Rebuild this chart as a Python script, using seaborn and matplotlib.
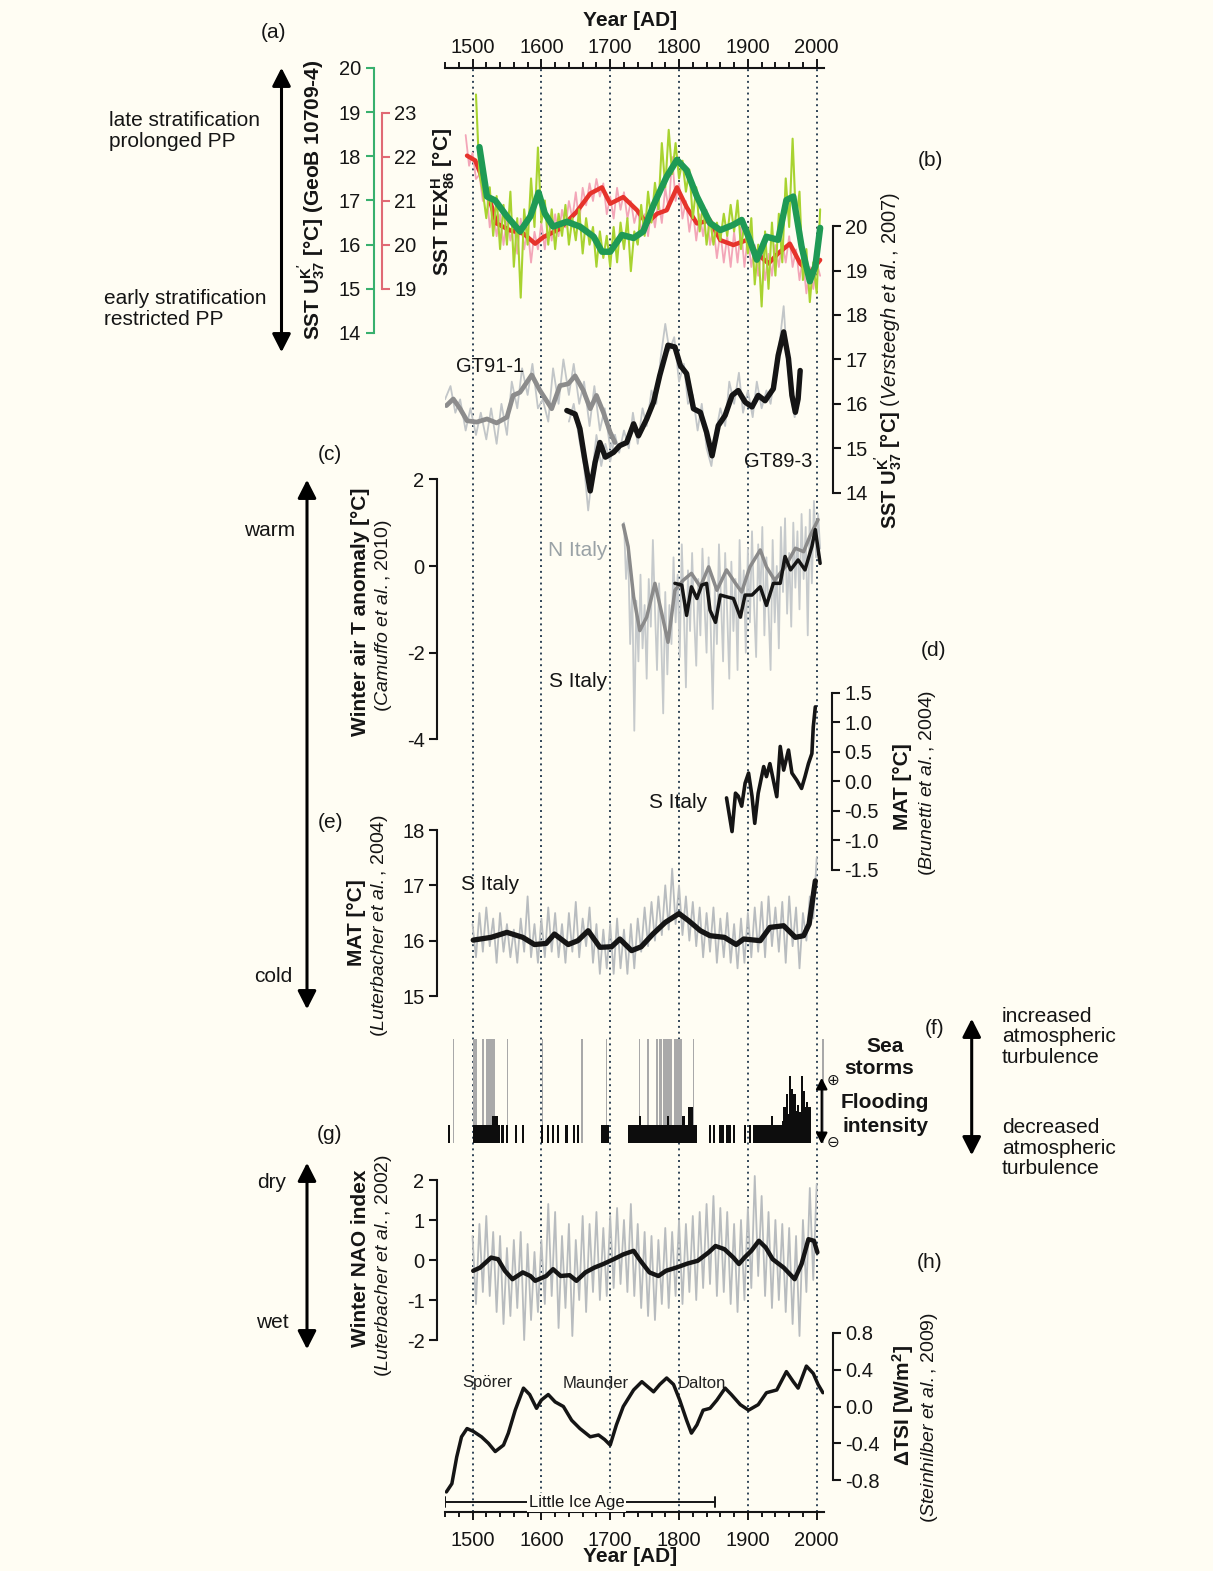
import numpy as np
import matplotlib
matplotlib.use("Agg")
import matplotlib.pyplot as plt
import seaborn as sns
from matplotlib.patches import FancyArrowPatch

sns.set_theme(style="white")
plt.rcParams["font.family"] = ["Liberation Sans", "DejaVu Sans"]
plt.rcParams["mathtext.fontset"] = "custom"
plt.rcParams["mathtext.rm"] = "Liberation Sans"
plt.rcParams["mathtext.bf"] = "Liberation Sans:bold"
plt.rcParams["mathtext.it"] = "Liberation Sans:italic"
plt.rcParams["axes.unicode_minus"] = False

# ---------------- (a) SST records ----------------
u37_smooth_year = [1510, 1521, 1533, 1550, 1569, 1584, 1596, 1605, 1617, 1637, 1656, 1676, 1688, 1700,
                   1717, 1734, 1748, 1763, 1782, 1797, 1811, 1826, 1845, 1860, 1879, 1891, 1901, 1913,
                   1927, 1944, 1956, 1966, 1978, 1990, 1998, 2005]
u37_smooth = [18.21, 17.09, 17.00, 16.64, 16.30, 16.64, 17.18, 16.71, 16.41, 16.52, 16.41, 16.18, 15.84,
              15.84, 16.22, 16.15, 16.30, 16.90, 17.54, 17.92, 17.69, 17.09, 16.49, 16.33, 16.45, 16.56,
              16.18, 15.66, 16.18, 16.11, 17.01, 17.09, 15.96, 15.17, 15.51, 16.38]
u37_annual_year = np.arange(1505, 2006, 5)
u37_annual = [19.4, 17.6, 17.2, 16.6, 17.3, 16.2, 17.1, 15.9, 16.9, 16.0,
              17.2, 15.5, 16.6, 14.8, 16.8, 16.0, 17.5, 16.4, 18.2, 16.5,
              17.0, 16.0, 16.8, 15.9, 16.7, 16.2, 16.9, 16.0, 16.6, 16.1,
              16.8, 15.8, 16.6, 16.0, 16.4, 15.5, 16.3, 15.7, 16.2, 15.5,
              16.4, 15.6, 16.5, 15.9, 16.6, 15.4, 16.3, 16.0, 16.9, 16.2,
              17.2, 16.5, 17.4, 16.8, 18.3, 17.3, 18.6, 17.6, 18.3, 17.5,
              17.9, 17.2, 17.7, 16.6, 17.3, 16.3, 16.9, 16.0, 16.6, 16.0,
              16.5, 16.1, 16.7, 16.2, 16.9, 16.3, 17.0, 15.9, 16.5, 15.8,
              16.6, 15.1, 16.0, 14.6, 16.3, 15.0, 16.5, 15.3, 16.7, 15.6,
              17.5, 16.4, 18.4, 16.5, 17.2, 15.2, 15.9, 14.7, 15.6, 14.9,
              16.8]
tex_smooth_year = [1492, 1504, 1521, 1535, 1555, 1574, 1591, 1603, 1627, 1651, 1671, 1688, 1700, 1719,
                   1739, 1753, 1768, 1782, 1797, 1811, 1826, 1845, 1860, 1879, 1898, 1913, 1930, 1944,
                   1961, 1976, 1990, 2005]
tex_smooth = [22.03, 21.92, 21.24, 20.49, 20.33, 20.26, 20.03, 20.18, 20.37, 20.75, 21.17, 21.31, 20.94,
              21.09, 20.79, 20.49, 20.71, 20.79, 21.31, 20.86, 20.49, 20.56, 20.11, 20.00, 20.11, 19.81,
              19.58, 19.81, 20.03, 19.58, 19.36, 19.66]
tex_annual_year = np.arange(1490, 2006, 5)
tex_annual = [22.5, 21.8, 22.1, 21.5, 21.6, 21.0, 21.3, 20.4, 20.8, 20.2,
              20.7, 20.0, 20.6, 20.1, 20.5, 19.8, 20.6, 19.9, 20.4, 19.6,
              20.3, 19.9, 20.5, 19.9, 20.6, 20.1, 20.7, 20.2, 20.8, 20.4,
              21.0, 20.6, 21.2, 20.5, 21.3, 20.9, 21.4, 21.0, 21.5, 21.1,
              21.4, 20.7, 21.1, 20.6, 21.3, 20.8, 21.2, 20.6, 21.0, 20.5,
              20.8, 20.3, 20.7, 20.2, 20.9, 20.4, 21.0, 20.5, 21.3, 20.8,
              22.0, 21.0, 21.4, 20.6, 21.0, 20.3, 20.8, 20.1, 20.7, 20.2,
              20.8, 20.0, 20.4, 19.7, 20.3, 19.6, 20.2, 19.5, 20.3, 19.6,
              20.4, 19.5, 20.2, 19.5, 20.0, 19.3, 19.9, 19.2, 19.8, 19.3,
              20.0, 19.5, 20.1, 19.6, 20.2, 19.5, 19.9, 19.2, 19.7, 18.9,
              19.5, 19.0, 19.6, 19.3]

# ---------------- (b) Versteegh cores ----------------
gt91_year = [1462, 1472, 1482, 1492, 1506, 1521, 1535, 1550, 1559, 1569, 1586, 1598, 1615, 1627, 1639,
             1649, 1661, 1671, 1680, 1690, 1700, 1707]
gt91 = [15.96, 16.11, 15.89, 15.62, 15.59, 15.66, 15.57, 15.70, 16.19, 16.26, 16.65, 16.30, 15.89,
        16.41, 16.45, 16.63, 16.30, 15.89, 16.19, 15.81, 15.36, 15.13]
gt91_raw_year = [1460, 1468, 1475, 1482, 1490, 1497, 1505, 1512, 1520, 1527, 1535, 1542, 1550, 1557,
                 1565, 1572, 1580, 1587, 1595, 1602, 1610, 1617, 1625, 1632, 1640, 1647, 1655, 1662,
                 1670, 1677, 1685, 1692, 1700, 1707]
gt91_raw = [16.1, 16.4, 15.8, 16.1, 15.4, 15.9, 15.3, 15.8, 15.2, 15.9, 15.1, 16.0, 15.3, 16.5, 15.9,
            16.8, 16.2, 16.9, 15.9, 16.1, 15.6, 16.8, 16.0, 17.0, 16.2, 16.9, 16.0, 16.5, 15.5, 16.4,
            15.4, 15.9, 15.0, 15.3]
gt89_year = [1637, 1649, 1656, 1663, 1671, 1678, 1685, 1693, 1705, 1714, 1724, 1734, 1741, 1753, 1763,
             1772, 1784, 1794, 1802, 1811, 1821, 1831, 1840, 1848, 1857, 1867, 1877, 1886, 1896, 1906,
             1915, 1925, 1937, 1944, 1952, 1959, 1964, 1969, 1973, 1976]
gt89 = [15.85, 15.77, 15.44, 14.76, 14.04, 14.68, 15.13, 14.80, 14.91, 15.06, 15.13, 15.55, 15.28,
        15.66, 16.04, 16.64, 17.32, 17.28, 16.86, 16.68, 15.89, 15.81, 15.36, 14.83, 15.51, 15.74,
        16.19, 16.30, 16.04, 15.93, 16.19, 16.07, 16.34, 17.09, 17.62, 17.02, 16.19, 15.81, 16.11, 16.75]
gt89_raw_year = [1640, 1647, 1655, 1662, 1668, 1673, 1680, 1687, 1693, 1700, 1707, 1713, 1720, 1727,
                 1733, 1740, 1747, 1753, 1760, 1767, 1773, 1780, 1786, 1793, 1800, 1807, 1813, 1820,
                 1827, 1833, 1840, 1847, 1853, 1860, 1867, 1873, 1880, 1887, 1893, 1900, 1907, 1913,
                 1920, 1927, 1933, 1940, 1947, 1952, 1957, 1963, 1968, 1973, 1977]
gt89_raw = [15.6, 16.0, 15.2, 14.6, 13.6, 14.3, 15.3, 14.6, 15.1, 14.7, 15.3, 14.9, 15.4, 15.0, 15.8,
            15.1, 15.9, 15.5, 16.3, 16.0, 17.0, 17.8, 17.2, 17.5, 16.5, 16.9, 16.0, 16.2, 15.4, 16.0,
            15.0, 14.6, 15.3, 15.9, 15.5, 16.5, 16.0, 16.7, 15.8, 16.3, 15.7, 16.5, 15.9, 16.3, 16.0,
            16.8, 17.5, 18.2, 17.0, 16.1, 15.7, 16.2, 16.6]

# ---------------- (c) winter air temperature anomaly ----------------
n_italy_year = [1719, 1726, 1734, 1743, 1753, 1765, 1775, 1784, 1794, 1806, 1818, 1831, 1843, 1855,
                1869, 1882, 1891, 1903, 1918, 1927, 1939, 1954, 1969, 1981, 1990, 2002]
n_italy = [0.95, 0.45, -0.71, -1.49, -1.18, -0.40, -1.10, -1.76, -0.56, -0.33, -0.17, -0.48, -0.02,
           -0.56, -0.09, -0.40, -0.60, -0.02, 0.37, -0.02, -0.33, -0.02, 0.41, 0.33, 0.68, 1.07]
s_italy_year = [1794, 1804, 1811, 1818, 1826, 1833, 1840, 1845, 1853, 1860, 1869, 1879, 1889, 1896,
                1906, 1918, 1927, 1937, 1947, 1954, 1962, 1973, 1983, 1993, 1998, 2005]
s_italy = [-0.40, -0.44, -1.14, -0.48, -0.75, -0.44, -0.40, -1.02, -1.30, -0.67, -0.71, -0.75, -1.18,
           -0.67, -0.67, -0.48, -0.91, -0.40, -0.40, 0.22, -0.09, 0.14, -0.09, 0.45, 0.84, 0.06]
winter_raw_year = np.arange(1720, 2006, 3)
winter_raw = [1.0, -0.3, 0.4, -1.8, -0.5, -3.8, -0.8, -2.2, -0.2, -1.9,
              -0.9, -2.6, -0.3, -1.4, 0.6, -1.0, -2.4, -0.4, -1.6, -3.4,
              -0.6, -2.5, -0.9, -1.8, 0.2, -1.3, -0.2, -2.1, 0.5, -1.0,
              -2.8, -0.1, -1.5, 0.3, -1.2, -2.3, -0.3, -1.6, 0.4, -0.9,
              -2.0, 0.2, -1.4, -3.3, -0.5, -1.8, 0.5, -0.8, -2.2, 0.3,
              -1.1, -2.6, 0.1, -1.5, -0.3, -2.4, 0.6, -1.2, -0.1, -2.0,
              0.4, -1.3, 0.8, -0.9, -2.1, 0.5, -0.8, 0.9, -1.6, 0.2,
              -1.0, -2.4, 0.6, -1.3, 0.0, -1.9, 0.9, -0.6, 1.1, -1.1,
              0.3, -1.4, 1.0, -0.5, 0.8, -1.0, 1.2, -0.3, 0.9, -1.6,
              1.3, -0.4, 1.5, 0.2, 1.2, 0.4]

# ---------------- (d) S Italy MAT (Brunetti) ----------------
mat_b_year = [1869, 1877, 1882, 1886, 1891, 1896, 1901, 1906, 1910, 1915, 1923, 1927, 1932, 1937, 1942,
              1947, 1952, 1959, 1964, 1971, 1978, 1983, 1988, 1993, 1995, 1998]
mat_b = [-0.28, -0.85, -0.20, -0.25, -0.42, -0.03, 0.14, -0.25, -0.71, -0.20, 0.25, 0.08, 0.30, 0.02,
         -0.26, 0.59, 0.19, 0.53, 0.14, 0.02, -0.12, 0.08, 0.30, 0.47, 0.92, 1.26]

# ---------------- (e) S Italy MAT (Luterbacher) ----------------
mat_l_year = [1501, 1527, 1550, 1573, 1590, 1607, 1619, 1639, 1653, 1668, 1685, 1702, 1714, 1731, 1745,
              1762, 1780, 1800, 1814, 1831, 1845, 1866, 1883, 1894, 1918, 1932, 1952, 1969, 1981, 1989, 1998]
mat_l = [16.01, 16.06, 16.15, 16.06, 15.93, 15.95, 16.12, 15.93, 16.00, 16.18, 15.88, 15.89, 16.03,
         15.82, 15.89, 16.12, 16.33, 16.49, 16.36, 16.18, 16.09, 16.06, 15.93, 16.03, 16.00, 16.24,
         16.27, 16.06, 16.09, 16.30, 17.08]
mat_l_raw_year = np.arange(1500, 2001, 5)
mat_l_raw = [16.3, 15.7, 16.5, 15.8, 16.6, 15.9, 16.4, 15.6, 16.5, 15.8,
             16.3, 15.7, 16.2, 15.6, 16.4, 15.8, 16.8, 15.7, 16.3, 15.6,
             16.4, 15.7, 16.6, 15.8, 16.5, 15.7, 16.3, 15.6, 16.5, 15.8,
             16.7, 15.7, 16.4, 15.9, 16.6, 15.6, 16.3, 15.4, 16.2, 15.5,
             16.3, 15.4, 16.4, 15.5, 16.2, 15.4, 16.3, 15.5, 16.4, 15.8,
             16.6, 15.9, 16.7, 16.0, 16.8, 16.1, 17.0, 16.2, 17.3, 16.3,
             17.0, 16.1, 16.8, 16.0, 16.7, 15.9, 16.6, 15.7, 16.5, 15.8,
             16.6, 15.6, 16.4, 15.7, 16.5, 15.6, 16.3, 15.5, 16.4, 15.6,
             16.5, 15.7, 16.6, 15.8, 16.7, 15.7, 16.8, 15.9, 16.6, 15.8,
             16.7, 15.6, 16.8, 15.9, 16.6, 15.5, 16.5, 16.0, 16.8, 16.4,
             17.5]

# ---------------- (f) sea storms and flooding ----------------
flood_start = [1464, 1500, 1529, 1537, 1542, 1549, 1562, 1572, 1599, 1608, 1616, 1623, 1635, 1646, 1652,
               1687, 1726, 1742, 1745, 1783, 1786, 1805, 1808, 1813, 1821, 1844, 1849, 1858, 1868, 1878,
               1895, 1901, 1908, 1933, 1936, 1949, 1951, 1955, 1958, 1960, 1963, 1966, 1970, 1972, 1975,
               1977, 1980, 1983, 1985, 1988]
flood_end = [1467, 1529, 1537, 1540, 1545, 1552, 1565, 1575, 1602, 1611, 1619, 1626, 1638, 1649, 1655,
             1698, 1742, 1745, 1783, 1786, 1805, 1808, 1813, 1821, 1826, 1847, 1852, 1866, 1875, 1881,
             1897, 1904, 1933, 1936, 1949, 1951, 1955, 1958, 1960, 1963, 1966, 1970, 1972, 1975, 1977,
             1980, 1983, 1985, 1988, 1991]
flood_level = [1.0, 1.0, 1.5, 1.0, 1.0, 1.0, 1.0, 1.0, 1.0, 1.0, 1.0, 1.0, 1.0, 1.0, 1.0,
               1.0, 1.0, 1.5, 1.0, 1.5, 1.0, 1.5, 1.0, 2.0, 1.0, 1.0, 1.0, 1.0, 1.0, 1.0,
               1.0, 1.0, 1.0, 1.5, 1.0, 1.2, 2.0, 2.7, 1.6, 3.7, 3.0, 2.7, 1.8, 2.1, 1.7,
               3.7, 2.9, 2.0, 2.3, 2.0]
storm_start = [1471, 1500, 1514, 1520, 1550, 1601, 1658, 1694, 1742, 1754, 1767, 1771, 1777, 1792, 1820, 2008]
storm_end = [1473, 1507, 1516, 1533, 1552, 1603, 1660, 1696, 1744, 1756, 1769, 1775, 1790, 1804, 1822, 2010]
storm_level = [5.8] * len(storm_start)

# ---------------- (g) winter NAO index ----------------
nao_year = [1501, 1511, 1527, 1537, 1547, 1558, 1573, 1584, 1591, 1607, 1617, 1628, 1641, 1651, 1664,
            1677, 1690, 1705, 1719, 1734, 1744, 1757, 1770, 1781, 1796, 1812, 1827, 1843, 1853, 1866,
            1879, 1887, 1895, 1905, 1916, 1926, 1936, 1952, 1968, 1978, 1988, 1996, 2001]
nao = [-0.27, -0.19, 0.06, 0.02, -0.27, -0.48, -0.31, -0.40, -0.52, -0.40, -0.23, -0.40, -0.38, -0.52,
       -0.31, -0.19, -0.10, 0.02, 0.14, 0.23, -0.02, -0.31, -0.40, -0.27, -0.19, -0.09, -0.02, 0.19,
       0.35, 0.27, 0.06, -0.10, 0.06, 0.23, 0.48, 0.31, 0.02, -0.19, -0.48, -0.10, 0.52, 0.48, 0.19]
nao_raw_year = np.arange(1500, 2001, 5)
nao_raw = [0.6, -1.1, 0.9, -0.8, 1.1, -0.9, 0.7, -1.3, 0.6, -1.6,
           0.3, -1.4, 0.5, -1.2, 0.7, -2.0, 0.4, -1.5, 0.2, -1.3,
           0.5, -1.1, 1.4, -0.9, 1.2, -1.7, 0.6, -1.2, 0.9, -1.9,
           0.5, -1.0, 1.1, -1.3, 0.9, -0.8, 1.2, -1.0, 0.8, -0.9,
           1.1, -0.7, 1.3, -0.6, 1.0, -0.8, 1.4, -0.9, 0.9, -1.2,
           0.7, -1.4, 0.6, -1.5, 0.5, -1.1, 0.8, -1.2, 0.7, -0.9,
           1.0, -1.1, 0.9, -0.8, 1.1, -1.0, 1.2, -0.7, 1.4, -0.6,
           1.6, -0.9, 1.3, -0.8, 1.2, -1.1, 0.9, -1.3, 1.0, -1.0,
           1.3, -0.7, 2.1, -0.4, 1.6, -0.9, 1.2, -1.2, 1.0, -1.0,
           0.9, -1.3, 0.8, -1.6, 0.6, -1.9, 1.0, -0.8, 1.8, -0.5,
           1.9]

# ---------------- (h) total solar irradiance ----------------
tsi_year = [1462, 1470, 1477, 1484, 1492, 1501, 1513, 1523, 1533, 1545, 1552, 1562, 1574, 1583, 1593,
            1600, 1610, 1620, 1632, 1644, 1656, 1671, 1683, 1692, 1700, 1709, 1719, 1734, 1746, 1763,
            1772, 1782, 1792, 1801, 1811, 1818, 1826, 1835, 1845, 1855, 1867, 1876, 1889, 1901, 1915,
            1927, 1942, 1956, 1966, 1973, 1985, 1995, 2002, 2009]
tsi = [-0.93, -0.84, -0.55, -0.33, -0.24, -0.27, -0.33, -0.40, -0.49, -0.42, -0.29, -0.04, 0.20, 0.13,
       -0.02, 0.07, 0.13, 0.05, 0.00, -0.15, -0.24, -0.33, -0.31, -0.36, -0.42, -0.20, 0.00, 0.18, 0.27,
       0.16, 0.24, 0.31, 0.24, 0.07, -0.15, -0.29, -0.20, -0.04, -0.02, 0.07, 0.20, 0.13, 0.02, -0.04,
       0.02, 0.15, 0.18, 0.38, 0.27, 0.20, 0.44, 0.36, 0.24, 0.15]

year_ticks = [1500, 1600, 1700, 1800, 1900, 2000]
minima = [("Spörer", 1521), ("Maunder", 1679), ("Dalton", 1833)]
lia_span = (1460, 1852)

# ---------------- layout helpers ----------------
W, H = 1213, 1571
BG = "#fffdf3"
INK = "#151515"
X0, X1 = 445, 824
XLIM = (1460, 2010.6)

fig = plt.figure(figsize=(W / 100, H / 100), dpi=100, facecolor=BG)


def T(x, y, s, **kw):
    opts = dict(ha="center", va="center", fontsize=15, color=INK)
    opts.update(kw)
    return fig.text(x / W, 1 - y / H, s, **opts)


def arrow(x, y1, y2, lw=2.2, scale=20):
    a = FancyArrowPatch((x / W, 1 - y1 / H), (x / W, 1 - y2 / H), transform=fig.transFigure,
                        arrowstyle="<|-|>,head_length=0.55,head_width=0.28", mutation_scale=scale,
                        lw=lw, color="black")
    fig.add_artist(a)


panels = []


def panel(v1, p1, v2, p2, top, bottom):
    upp = (v1 - v2) / (p2 - p1)
    ylim = (v2 - (bottom - p2) * upp, v1 + (p1 - top) * upp)
    ax = fig.add_axes([X0 / W, 1 - bottom / H, (X1 - X0) / W, (bottom - top) / H])
    ax.set_facecolor("none")
    for s in ax.spines.values():
        s.set_visible(False)
    panels.append((ax, ylim))
    return ax


def yaxis(ax, side, xpx, ticks, labels=None, color=INK):
    sp = ax.spines[side]
    sp.set_visible(True)
    sp.set_position(("axes", (xpx - X0) / (X1 - X0)))
    sp.set_color(color)
    sp.set_linewidth(1.5)
    sp.set_bounds(min(ticks), max(ticks))
    ax.yaxis.set_ticks_position(side)
    ax.set_yticks(ticks)
    if labels is not None:
        ax.set_yticklabels(labels)
    ax.tick_params(axis="y", which="major", direction="out", length=6, width=1.5, color=color,
                   labelcolor=INK, labelsize=14.5, pad=3,
                   left=(side == "left"), right=(side == "right"),
                   labelleft=(side == "left"), labelright=(side == "right"))


def line(ax, x, y, color, lw, z=2):
    sns.lineplot(x=np.asarray(x, dtype=float), y=np.asarray(y, dtype=float), ax=ax, color=color,
                 linewidth=lw, estimator=None, sort=False, zorder=z,
                 solid_joinstyle="round", solid_capstyle="round")


# ---------------- shared time axis (bottom) ----------------
ax0 = fig.add_axes([X0 / W, 1 - 1512 / H, (X1 - X0) / W, (1512 - 68) / H])
ax0.set_facecolor("none")
ax0.set_xlim(*XLIM)
ax0.set_ylim(1512, 68)
for side in ("left", "right", "top"):
    ax0.spines[side].set_visible(False)
ax0.spines["bottom"].set_linewidth(1.5)
ax0.spines["bottom"].set_color(INK)
ax0.set_yticks([])
ax0.set_xticks(year_ticks)
ax0.set_xticks(np.arange(1460, 2001, 20), minor=True)
ax0.tick_params(axis="x", which="both", direction="out", top=False, bottom=True,
                labeltop=False, labelbottom=True, color=INK, width=1.4, labelsize=14.5, labelcolor=INK)
ax0.tick_params(axis="x", which="major", length=6, pad=8)
ax0.tick_params(axis="x", which="minor", length=3.5)
for yr in year_ticks:
    ax0.axvline(yr, color="#2f4356", lw=1.4, ls=(0, (1, 2)), zorder=0)

# ---------------- shared time axis (top) ----------------
axT = ax0.twiny()
axT.set_facecolor("none")
axT.set_xlim(*XLIM)
for side in ("left", "right", "bottom"):
    axT.spines[side].set_visible(False)
axT.spines["top"].set_linewidth(1.5)
axT.spines["top"].set_color(INK)
axT.set_xticks(year_ticks)
axT.set_xticks(np.arange(1460, 2001, 20), minor=True)
axT.tick_params(axis="x", which="both", direction="out", top=True, bottom=False,
                labeltop=True, labelbottom=False, color=INK, width=1.4, labelsize=14.5, labelcolor=INK)
axT.tick_params(axis="x", which="major", length=6.5, pad=1.5)
axT.tick_params(axis="x", which="minor", length=4)

# Little Ice Age bar
ax0.plot(list(lia_span), [1502, 1502], color=INK, lw=1.4)
for yr in lia_span:
    ax0.plot([yr, yr], [1497, 1507], color=INK, lw=1.4)
ax0.text(1651, 1502, "Little Ice Age", ha="center", va="center", fontsize=12, color=INK,
         bbox=dict(facecolor=BG, edgecolor="none", pad=1.5))
for name, yr in minima:
    ax0.text(yr, 1383, name, ha="center", va="center", fontsize=12, color="#222222")

# ---------------- (a) ----------------
axa = panel(20, 68, 14, 333, 55, 345)
line(axa, u37_annual_year, u37_annual, "#a8d330", 1.5, z=2)
line(axa, u37_smooth_year, u37_smooth, "#1f9a55", 4.6, z=4)
yaxis(axa, "left", 373.7, [14, 15, 16, 17, 18, 19, 20], color="#38b06e")

axa2 = panel(23, 113, 19, 289, 55, 345)
line(axa2, tex_annual_year, tex_annual, "#f3a6b8", 1.3, z=1)
line(axa2, tex_smooth_year, tex_smooth, "#e6332b", 3.2, z=3)
yaxis(axa2, "right", 381.6, [19, 20, 21, 22, 23], color="#e06a74")
axa.set_zorder(3)
axa2.set_zorder(2)

# ---------------- (b) ----------------
axb = panel(18, 315, 14, 492.7, 200, 520)
line(axb, gt91_raw_year, gt91_raw, "#c2c6c8", 1.3, z=1)
line(axb, gt89_raw_year, gt89_raw, "#c2c6c8", 1.3, z=1)
line(axb, gt91_year, gt91, "#8c8c8c", 3.4, z=3)
line(axb, gt89_year, gt89, "#151515", 3.9, z=4)
yaxis(axb, "right", 833, [14, 15, 16, 17, 18, 19, 20])

# ---------------- (c) ----------------
axc = panel(0, 566, -2, 652.7, 470, 760)
line(axc, winter_raw_year, winter_raw, "#c6cacc", 1.3, z=1)
line(axc, n_italy_year, n_italy, "#8a8a8a", 2.5, z=3)
line(axc, s_italy_year, s_italy, "#151515", 2.5, z=4)
yaxis(axc, "left", 437, [-4, -2, 0, 2])

# ---------------- (d) ----------------
axd = panel(1.5, 692.7, -1.5, 870, 680, 885)
line(axd, mat_b_year, mat_b, "#151515", 2.6, z=3)
yaxis(axd, "right", 831.7, [-1.5, -1.0, -0.5, 0.0, 0.5, 1.0, 1.5],
      ["-1.5", "-1.0", "-0.5", "0.0", "0.5", "1.0", "1.5"])

# ---------------- (e) ----------------
axe = panel(18, 830, 15, 996, 815, 1010)
line(axe, mat_l_raw_year, mat_l_raw, "#b8bcbf", 1.3, z=1)
line(axe, mat_l_year, mat_l, "#151515", 3.8, z=3)
yaxis(axe, "left", 437, [15, 16, 17, 18])

# ---------------- (f) ----------------
axf = panel(6, 1035, 0, 1143, 1030, 1150)
axf.bar(storm_start, storm_level, width=np.subtract(storm_end, storm_start), align="edge",
        color="#a9a9a9", linewidth=0, zorder=1)
axf.bar(flood_start, flood_level, width=np.subtract(flood_end, flood_start), align="edge",
        color="#0d0d0d", linewidth=0, zorder=2)

# ---------------- (g) ----------------
axg = panel(2, 1180, -2, 1340, 1150, 1372)
line(axg, nao_raw_year, nao_raw, "#b8bcbf", 1.3, z=1)
line(axg, nao_year, nao, "#151515", 3.2, z=3)
yaxis(axg, "left", 437, [-2, -1, 0, 1, 2])

# ---------------- (h) ----------------
axh = panel(0.8, 1333, -0.8, 1480, 1320, 1500)
line(axh, tsi_year, tsi, "#151515", 2.5, z=3)
yaxis(axh, "right", 833, [-0.8, -0.4, 0.0, 0.4, 0.8], ["-0.8", "-0.4", "0.0", "0.4", "0.8"])

for ax, ylim in panels:
    ax.set_xlim(*XLIM)
    ax.set_ylim(*ylim)
    ax.set_xlabel("")
    ax.set_ylabel("")
    ax.set_xticks([])
    ax.tick_params(axis="x", bottom=False, labelbottom=False)
axf.set_yticks([])
axf.tick_params(axis="y", left=False, labelleft=False, right=False, labelright=False)

# ---------------- text ----------------
T(630, 21, "Year [AD]", fontweight="bold")
T(630, 1557, "Year [AD]", fontweight="bold")

T(273, 33, "(a)")
T(109, 131, "late stratification\nprolonged PP", ha="left", linespacing=1.15)
T(104, 309, "early stratification\nrestricted PP", ha="left", linespacing=1.15)
arrow(281.5, 65, 355)
T(312, 200, r"SST U$^{\mathbf{K'}}_{\mathbf{37}}$ [°C] (GeoB 10709-4)", rotation=90, fontweight="bold")
T(443, 202, r"SST TEX$^{\mathbf{H}}_{\mathbf{86}}$ [°C]", rotation=90, fontweight="bold")

T(930, 160, "(b)")
T(889, 360, r"$\mathbf{SST\ U^{K'}_{37}\ [°C]}$ ($\mathit{Versteegh\ et\ al.}$, 2007)", rotation=90,
  fontsize=14.5)
T(490, 366, "GT91-1", fontsize=14.5)
T(778, 462, "GT89-3", fontsize=14.5)

T(330, 455, "(c)")
T(270, 530, "warm")
arrow(307, 477, 1012)
T(360, 612, "Winter air T anomaly [°C]", rotation=90, fontweight="bold")
T(383, 616, r"($\mathit{Camuffo\ et\ al.}$, 2010)", rotation=90, fontsize=14)
T(578, 550, "N Italy", color="#9aa2a6")
T(578, 682, "S Italy")

T(933, 650, "(d)")
T(903, 787, "MAT [°C]", rotation=90, fontweight="bold")
T(928, 783, r"($\mathit{Brunetti\ et\ al.}$, 2004)", rotation=90, fontsize=14)
T(678, 802, "S Italy")

T(331, 822, "(e)")
T(356, 923, "MAT [°C]", rotation=90, fontweight="bold")
T(379, 925, r"($\mathit{Luterbacher\ et\ al.}$, 2004)", rotation=90, fontsize=14)
T(490, 885, "S Italy")
T(273, 977, "cold")

T(885, 1047, "Sea", fontweight="bold")
T(879, 1068, "storms", fontweight="bold")
T(885, 1103, "Flooding", fontweight="bold")
T(885, 1127, "intensity", fontweight="bold")
arrow(821.7, 1075, 1147, lw=1.6, scale=12)
T(833, 1080, "⊕", fontsize=11, family=["DejaVu Sans"])
T(833, 1142, "⊖", fontsize=11, family=["DejaVu Sans"])
T(935, 1028, "(f)")
arrow(971.7, 1016, 1158)
T(1002, 1037, "increased\natmospheric\nturbulence", ha="left", linespacing=1.12)
T(1002, 1148, "decreased\natmospheric\nturbulence", ha="left", linespacing=1.12)

T(330, 1135, "(g)")
T(272, 1183, "dry")
T(272, 1322, "wet")
arrow(307, 1160, 1352)
T(360, 1258, "Winter NAO index", rotation=90, fontweight="bold")
T(383, 1265, r"($\mathit{Luterbacher\ et\ al.}$, 2002)", rotation=90, fontsize=14)

T(930, 1262, "(h)")
T(903, 1405, r"ΔTSI [W/m$^{\mathbf{2}}$]", rotation=90, fontweight="bold")
T(930, 1417, r"($\mathit{Steinhilber\ et\ al.}$, 2009)", rotation=90, fontsize=14)

fig.savefig("out.png", dpi=100, facecolor=BG)
